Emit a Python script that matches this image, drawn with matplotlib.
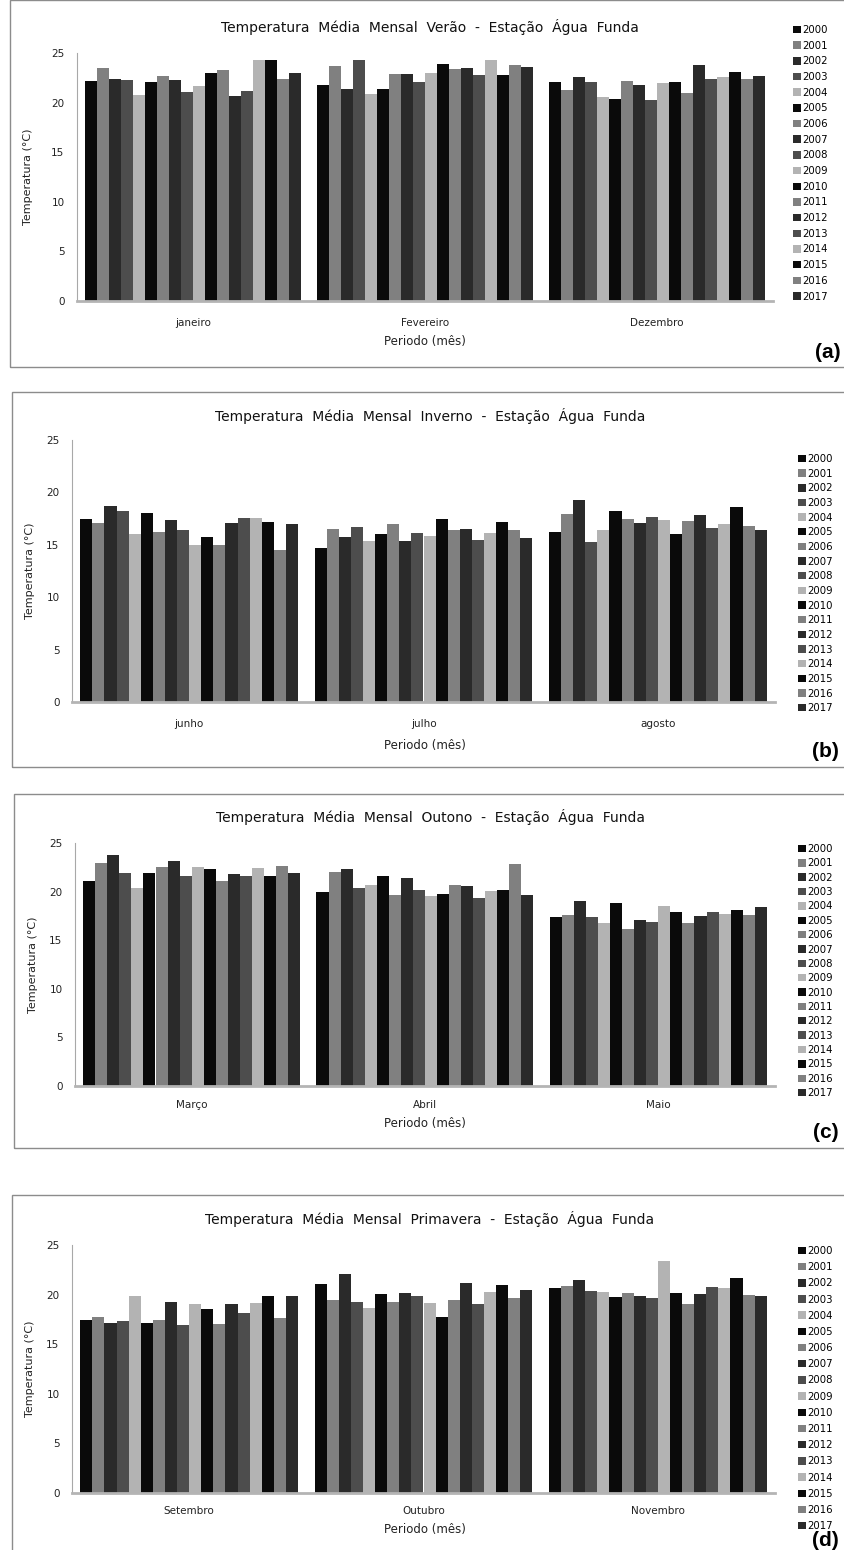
import matplotlib
matplotlib.use("Agg")
import matplotlib.pyplot as plt
from matplotlib.patches import Rectangle
import numpy as np

W, H = 844, 1550

anos = [str(a) for a in range(2000, 2018)]
cores = ['#0a0a0a', '#808080', '#2a2a2a', '#4d4d4d', '#b3b3b3']

# verao
meses_a = ['janeiro', 'Fevereiro', 'Dezembro']
verao = [
    [22.15, 23.5, 22.4, 22.25, 20.8, 22.05, 22.7, 22.25, 21.1, 21.7, 23.0, 23.3, 20.7, 21.2, 24.3, 24.3, 22.35, 23.0],
    [21.75, 23.7, 21.4, 24.3, 20.9, 21.4, 22.9, 22.9, 22.05, 23.0, 23.9, 23.4, 23.5, 22.8, 24.3, 22.8, 23.8, 23.6],
    [22.05, 21.3, 22.55, 22.05, 20.6, 20.4, 22.15, 21.75, 20.3, 21.95, 22.05, 21.0, 23.8, 22.35, 22.55, 23.1, 22.35, 22.7],
]
# inverno
meses_b = ['junho', 'julho', 'agosto']
inverno = [
    [17.48, 17.06, 18.66, 18.18, 16.04, 18.05, 16.23, 17.38, 16.45, 14.95, 15.75, 14.95, 17.06, 17.57, 17.57, 17.16, 14.54, 16.96],
    [14.73, 16.55, 15.75, 16.74, 15.34, 16.04, 16.96, 15.34, 16.13, 15.85, 17.48, 16.45, 16.55, 15.43, 16.13, 17.16, 16.45, 15.65],
    [16.23, 17.96, 19.3, 15.24, 16.45, 18.27, 17.48, 17.06, 17.67, 17.38, 16.04, 17.25, 17.86, 16.65, 16.96, 18.56, 16.84, 16.45],
]
# outono
meses_c = ['Março', 'Abril', 'Maio']
outono = [
    [21.04, 22.9, 23.73, 21.87, 20.39, 21.87, 22.49, 23.1, 21.56, 22.55, 22.28, 21.14, 21.76, 21.56, 22.38, 21.56, 22.59, 21.87],
    [20.01, 21.97, 22.28, 20.42, 20.73, 21.56, 19.66, 21.35, 20.21, 19.59, 19.8, 20.73, 20.59, 19.39, 20.11, 20.21, 22.8, 19.7],
    [17.42, 17.63, 19.01, 17.42, 16.8, 18.87, 16.18, 17.05, 16.91, 18.56, 17.94, 16.8, 17.53, 17.94, 17.73, 18.08, 17.63, 18.46],
]
# primavera
meses_d = ['Setembro', 'Outubro', 'Novembro']
primavera = [
    [17.48, 17.79, 17.18, 17.38, 19.83, 17.18, 17.48, 19.23, 16.98, 19.03, 18.59, 17.08, 19.03, 18.1, 19.13, 19.83, 17.62, 19.83],
    [21.04, 19.43, 22.05, 19.23, 18.69, 20.03, 19.23, 20.13, 19.83, 19.13, 17.79, 19.43, 21.14, 19.03, 20.23, 20.94, 19.63, 20.44],
    [20.64, 20.84, 21.44, 20.34, 20.23, 19.73, 20.13, 19.83, 19.63, 23.36, 20.13, 19.03, 20.03, 20.74, 20.64, 21.64, 19.93, 19.83],
]


def fx(x):
    return x / W


def fy(y):
    return 1 - y / H


fig = plt.figure(figsize=(W / 100, H / 100), dpi=100)


def painel(titulo, meses, dados, ax_px, box_px, tit_y, ylab_x, xlab_y, leg_px, spacing, letra, letra_px, xpad=12):
    x0, y0, x1, y1 = box_px
    fig.patches.append(Rectangle((fx(x0), fy(y1)), fx(x1 - x0), (y1 - y0) / H,
                                 transform=fig.transFigure, fill=False,
                                 edgecolor='#8c8c8c', lw=1.0))
    l, t, r, b = ax_px
    ax = fig.add_axes([fx(l), fy(b), fx(r - l), (b - t) / H])
    d = np.array(dados)
    n = d.shape[1]
    larg = 0.93 / n
    pos = np.arange(len(meses))
    barras = []
    for i in range(n):
        xs = pos - 0.465 + larg * (i + 0.5)
        bb = ax.bar(xs, d[:, i], width=larg, color=cores[i % 5], edgecolor='none')
        barras.append(bb)
    ax.set_xlim(-0.5, len(meses) - 0.5)
    ax.set_ylim(0, 25)
    ax.set_yticks([0, 5, 10, 15, 20, 25])
    ax.set_xticks(pos)
    ax.set_xticklabels(meses)
    ax.tick_params(axis='both', length=0, labelsize=7.5, colors='#222222')
    ax.tick_params(axis='x', pad=xpad)
    ax.tick_params(axis='y', pad=9)
    for s in ['top', 'right']:
        ax.spines[s].set_visible(False)
    ax.spines['left'].set_color('#a8a8a8')
    ax.spines['left'].set_linewidth(0.8)
    ax.spines['bottom'].set_color('#b4b4b4')
    ax.spines['bottom'].set_linewidth(2)
    fig.text(fx(430), fy(tit_y), titulo, ha='center', va='center', fontsize=10, color='#111111')
    fig.text(fx(ylab_x), fy((t + b) / 2), 'Temperatura (°C)', rotation=90,
             ha='center', va='center', fontsize=8, color='#222222')
    fig.text(fx(425), fy(xlab_y), 'Periodo (mês)', ha='center', va='center', fontsize=8.5, color='#222222')
    fig.text(fx(letra_px[0]), fy(letra_px[1]), letra, ha='center', va='center',
             fontsize=15, fontweight='bold', family='Liberation Sans')
    fig.legend(barras, anos, loc='upper left', bbox_to_anchor=(fx(leg_px[0]), fy(leg_px[1])),
               frameon=False, fontsize=7.3, handlelength=0.75, handleheight=0.75,
               handletextpad=0.2, labelspacing=spacing, borderaxespad=0, borderpad=0)
    return ax


painel('Temperatura  Média  Mensal  Verão  -  Estação  Água  Funda', meses_a, verao,
       (77, 53, 773, 301), (10, 0, 846, 367), 27, 28, 341, (793, 25), 0.56, '(a)', (828, 352))
painel('Temperatura  Média  Mensal  Inverno  -  Estação  Água  Funda', meses_b, inverno,
       (72, 440, 775, 702), (12, 392, 846, 767), 416, 30, 745, (798, 454), 0.46, '(b)', (825, 752))
painel('Temperatura  Média  Mensal  Outono  -  Estação  Água  Funda', meses_c, outono,
       (75, 843, 775, 1086), (14, 794, 846, 1148), 817, 33, 1124, (798, 844), 0.43, '(c)', (826, 1133), 10)
painel('Temperatura  Média  Mensal  Primavera  -  Estação  Água  Funda', meses_d, primavera,
       (72, 1245, 775, 1493), (12, 1195, 846, 1570), 1219, 30, 1530, (798, 1246), 0.61, '(d)', (825, 1540), 9)

fig.savefig('out.png', dpi=100)
